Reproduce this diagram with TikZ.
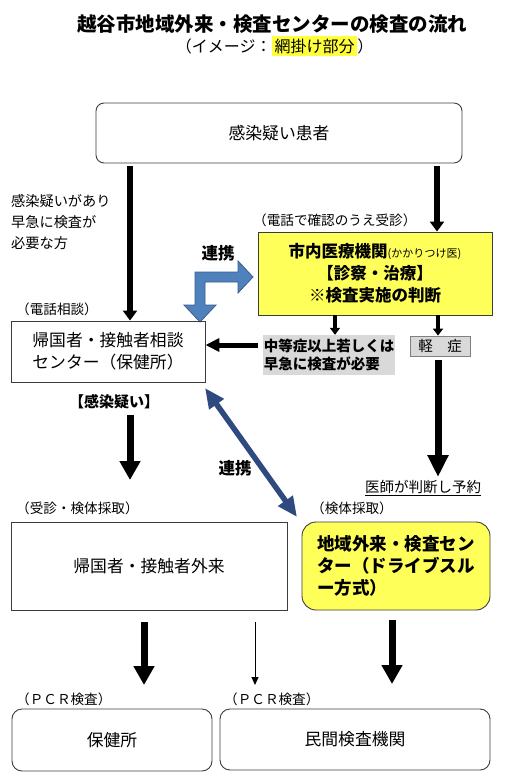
\documentclass[tikz,border=0pt]{standalone}
\usepackage{fontspec}
\setmainfont{Noto Sans CJK JP}
\usetikzlibrary{arrows.meta}
\definecolor{hlyellow}{RGB}{255,255,90}
\definecolor{subyellow}{RGB}{255,255,60}
\definecolor{bfill}{RGB}{79,129,189}
\definecolor{bline}{RGB}{56,93,138}
\definecolor{dblue}{RGB}{46,74,126}
\definecolor{lgray}{RGB}{217,217,217}
\definecolor{bordc}{RGB}{60,60,60}
\begin{document}
\begin{tikzpicture}[x=1pt,y=-1pt,
  every node/.style={inner sep=0pt, font=\fontsize{16.8}{22}\selectfont},
  boxline/.style={draw=bordc, line width=0.9pt},
  note/.style={anchor=west, font=\fontsize{13.6}{16}\selectfont},
  boldlbl/.style={font=\bfseries\fontsize{16.5}{22}\selectfont},
  fatarrow/.style={line width=7pt, -{Triangle[length=19pt,width=20pt]}},
  medarrow/.style={line width=5.5pt, -{Triangle[length=10pt,width=14pt]}},
  smallarrow/.style={line width=4pt, -{Triangle[length=7pt,width=10pt]}},
  thinarrow/.style={line width=1pt, -{Triangle[length=8pt,width=7pt]}}]
\useasboundingbox (0,0) rectangle (505,784);

% title
\node[font=\bfseries\fontsize{19.5}{22}\selectfont] (title) at (272,24) {越谷市地域外来・検査センターの検査の流れ};
\node[font=\fontsize{16}{20}\selectfont, fill=subyellow, inner sep=2.5pt] (hl) at (314.5,46) {網掛け部分};
\node[anchor=east, font=\fontsize{16}{20}\selectfont] (subL) at (hl.west) {（イメージ：};
\node[anchor=west, font=\fontsize{16}{20}\selectfont] (subR) at (hl.east) {）};

% top box
\node[boxline, rounded corners=8pt, minimum width=366pt, minimum height=60pt] (patient) at (279,133) {感染疑い患者};

% left note
\node[anchor=west, align=left, font=\fontsize{14.2}{21}\selectfont] (urgent) at (11,222) {感染疑いがあり\\早急に検査が\\必要な方};

\node[note] (telconf) at (253,220) {（電話で確認のうえ受診）};

% yellow clinic box
\node[boxline, fill=hlyellow, minimum width=234pt, minimum height=83pt, align=center,
      font=\bfseries\fontsize{16.5}{22}\selectfont] (clinic) at (375,273.5)
  {市内医療機関{\mdseries\fontsize{11}{13}\selectfont(かかりつけ医)}\\【診察・治療】\\※検査実施の判断};

\node[boldlbl] (renkei1) at (218,253) {連携};

% blue bent arrow
\draw[bline, fill=bfill, line width=0.8pt, line join=miter] (195,272) -- (238,272) -- (238,261) -- (253,277) -- (238,293) -- (238,282) -- (205,282) -- (205,305) -- (216,305) -- (200,322) -- (184,305) -- (195,305) -- cycle;

\node[note] (teltalk) at (16,309) {（電話相談）};

% consultation center
\node[boxline, minimum width=194pt, minimum height=61pt, align=left] (center) at (108,351.5)
  {帰国者・接触者相談\\センター（保健所）};

% gray label
\node[fill=lgray, minimum width=132pt, minimum height=40pt, align=left,
      font=\bfseries\fontsize{14.5}{18}\selectfont] (severe) at (329,355)
  {中等症以上若しくは\\早急に検査が必要};

\node[draw=black!50, line width=0.8pt, fill=lgray, minimum width=60pt, minimum height=20pt,
      font=\fontsize{14.5}{18}\selectfont] (mild) at (440,346) {軽　症};

\node[font=\fontsize{14.5}{18}\selectfont] (resv) at (423,488) {\underline{医師が判断し予約}};

\node[font=\bfseries\fontsize{15}{18}\selectfont] (suspect) at (114,402) {【感染疑い】};

\node[boldlbl] (renkei2) at (235,468) {連携};

\node[note] (exam1) at (16,508) {（受診・検体採取）};
\node[note] (exam2) at (311,508) {（検体採取）};

% outpatient
\node[boxline, minimum width=276pt, minimum height=88pt] (outpt) at (149,566) {帰国者・接触者外来};

% drive-through
\node[boxline, fill=hlyellow, rounded corners=14pt, minimum width=188pt, minimum height=88pt, align=left,
      font=\bfseries\fontsize{17.5}{22}\selectfont] (drive) at (396,566)
  {地域外来・検査セン\\ター（ドライブスル\\ー方式）};

\node[note] (pcr1) at (16,699) {（ＰＣＲ検査）};
\node[note] (pcr2) at (224,699) {（ＰＣＲ検査）};

\node[boxline, rounded corners=10pt, minimum width=200pt, minimum height=62pt] (hoken) at (112,740) {保健所};
\node[boxline, rounded corners=10pt, minimum width=270pt, minimum height=61pt] (lab) at (355,739.5) {民間検査機関};

% coordinates for connector ends
\coordinate (xL) at (130,0);
\coordinate (xR) at (437,0);
\coordinate (xM) at (335,0);
\coordinate (xK) at (438,0);
\coordinate (yH) at (0,345);
\coordinate (rStart) at (438,360);
\coordinate (rTip) at (438,477);
\coordinate (sStart) at (130,415);
\coordinate (sTip) at (130,480);
\coordinate (dA) at (205,388);
\coordinate (dB) at (297,517);
\coordinate (b1s) at (144,622);
\coordinate (b1e) at (144,685);
\coordinate (b2s) at (255,622);
\coordinate (b2e) at (255,685);
\coordinate (b3s) at (392,620);
\coordinate (b3e) at (392,684);

% connectors
\draw[medarrow] ([yshift=-3pt]patient.south -| xL) -- (center.north -| xL);
\draw[medarrow] ([yshift=-3pt]patient.south -| xR) -- (clinic.north -| xR);
\draw[smallarrow] (clinic.south -| xM) -- (severe.north -| xM);
\draw[smallarrow] (clinic.south -| xK) -- (mild.north -| xK);
\draw[line width=5pt, -{Triangle[length=14pt,width=13pt]}] ([xshift=-5pt]severe.west |- yH) -- (center.east |- yH);
\draw[fatarrow, -{Triangle[length=22pt,width=20pt]}] (rStart) -- (rTip);
\draw[fatarrow] (sStart) -- (sTip);
\draw[dblue, line width=5.5pt, {Triangle[length=20pt,width=17pt]}-{Triangle[length=20pt,width=17pt]}] (dA) -- (dB);
\draw[fatarrow] (b1s) -- (b1e);
\draw[thinarrow] (b2s) -- (b2e);
\draw[fatarrow] (b3s) -- (b3e);
\end{tikzpicture}
\end{document}
